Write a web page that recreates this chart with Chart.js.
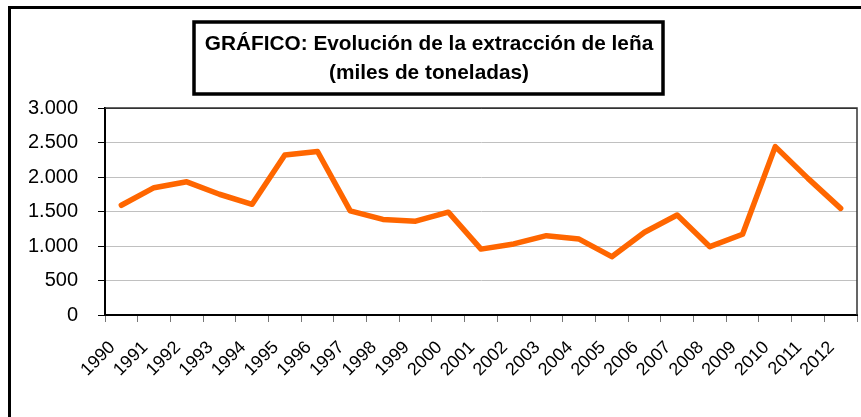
<!DOCTYPE html>
<html>
<head>
<meta charset="utf-8">
<script src="https://cdn.jsdelivr.net/npm/chart.js@4.4.0/dist/chart.umd.min.js"></script>
<style>
  html, body { margin: 0; padding: 0; background: #fff; }
  #wrap { width: 861px; height: 417px; }
</style>
</head>
<body>
<div id="wrap"><canvas id="graficoLena" width="861" height="417"></canvas></div>
<script>
// ====== Datos ======
const anios = ['1990', '1991', '1992', '1993', '1994', '1995', '1996', '1997', '1998', '1999', '2000', '2001',
               '2002', '2003', '2004', '2005', '2006', '2007', '2008', '2009', '2010', '2011', '2012'];
const extraccion = [1590, 1845, 1930, 1750, 1605, 2320, 2370, 1510, 1385, 1360, 1490, 955,
                    1030, 1150, 1100, 845, 1200, 1450, 990, 1170, 2440, 1980, 1545];
const ejeYMin = 0;
const ejeYMax = 3000;
const ejeYPaso = 500;
const tituloLineas = ['GRÁFICO: Evolución de la extracción de leña', '(miles de toneladas)'];

const fuente = "'Liberation Sans', Arial, sans-serif";

// separador de miles con punto (3.000)
function puntoMiles(v) {
    return String(v).replace(/\B(?=(\d{3})+(?!\d))/g, '.');
}

// ====== Plugin: marco exterior, borde del área y cuadro del título ======
const marcos = {
    id: 'marcos',
    beforeDraw(chart) {
        const ctx = chart.ctx;
        ctx.save();
        ctx.fillStyle = '#fff';
        ctx.fillRect(0, 0, chart.width, chart.height);
        ctx.strokeStyle = '#000';
        ctx.lineWidth = 3;
        ctx.strokeRect(9.5, 7.5, chart.width + 20, chart.height + 20);
        ctx.restore();
    },
    beforeDatasetsDraw(chart) {
        const { ctx, chartArea: a } = chart;
        ctx.save();
        ctx.strokeStyle = '#333';
        ctx.lineWidth = 1.5;
        ctx.beginPath();
        ctx.moveTo(a.left, a.top);
        ctx.lineTo(a.right, a.top);
        ctx.lineTo(a.right, a.bottom);
        ctx.stroke();
        ctx.restore();
    },
    afterDraw(chart) {
        const ctx = chart.ctx;
        ctx.save();
        ctx.strokeStyle = '#000';
        ctx.lineWidth = 3.5;
        ctx.strokeRect(194, 22, 469, 72);
        ctx.fillStyle = '#000';
        ctx.font = 'bold 20.8px ' + fuente;
        ctx.textAlign = 'center';
        ctx.textBaseline = 'middle';
        ctx.fillText(tituloLineas[0], 429, 44);
        ctx.fillText(tituloLineas[1], 429, 73);
        ctx.restore();
    }
};

// ====== Chart ======
const ctx = document.getElementById('graficoLena').getContext('2d');
new Chart(ctx, {
    type: 'line',
    data: {
        labels: anios,
        datasets: [{
            label: 'Extracción de leña',
            data: extraccion,
            borderColor: '#FF6600',
            borderWidth: 5.5,
            pointRadius: 0,
            tension: 0,
            fill: false,
            borderCapStyle: 'round',
            borderJoinStyle: 'round'
        }]
    },
    options: {
        responsive: false,
        devicePixelRatio: 1,
        animation: false,
        layout: { padding: { top: 108, right: 4, bottom: 0, left: 0 } },
        plugins: {
            legend: { display: false },
            tooltip: { enabled: false },
            title: { display: false }
        },
        scales: {
            x: {
                offset: true,
                grid: { offset: true, drawOnChartArea: false, drawTicks: true, tickLength: 7, tickColor: '#777' },
                border: { color: '#000', width: 2 },
                ticks: {
                    autoSkip: false,
                    minRotation: 45,
                    maxRotation: 45,
                    color: '#000',
                    padding: 15,
                    labelOffset: -9,
                    font: { family: fuente, size: 18 }
                },
                afterFit: (s) => {
                    s.height = 102;
                    s.paddingLeft = 0;
                    s.paddingRight = 0;
                }
            },
            y: {
                min: ejeYMin,
                max: ejeYMax,
                grid: {
                    color: (c) => c.tick && c.tick.value === ejeYMax ? '#333' : '#c0c0c0',
                    tickColor: '#000',
                    tickLength: 7,
                    lineWidth: 1
                },
                border: { color: '#000', width: 2 },
                ticks: {
                    stepSize: ejeYPaso,
                    color: '#000',
                    padding: 20,
                    font: { family: fuente, size: 20 },
                    callback: (v) => puntoMiles(v)
                },
                afterFit: (s) => { s.width = 105; }
            }
        }
    },
    plugins: [marcos]
});
</script>
</body>
</html>
